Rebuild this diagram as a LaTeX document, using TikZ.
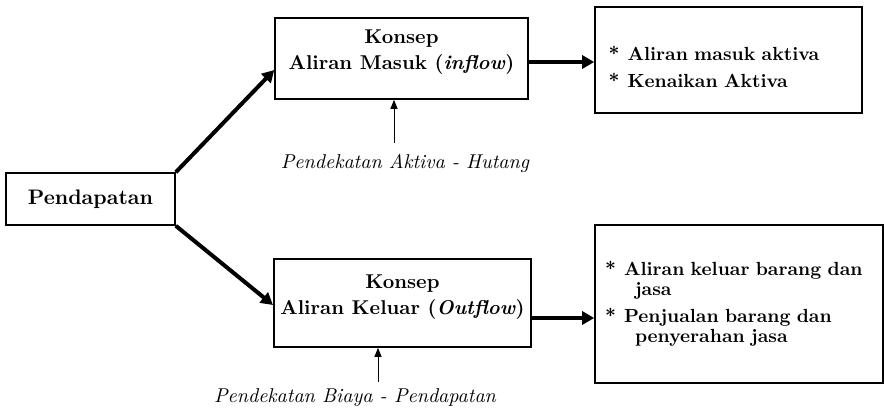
\documentclass[tikz,border=0pt]{standalone}
\usepackage{tikz}
\usetikzlibrary{positioning, shapes}
\usetikzlibrary{arrows.meta}

\begin{document}
\begin{tikzpicture}[x=0.5pt,y=-0.5pt]
            \tikzset{kotak/.style = {draw, line width=0.8pt, align=center, font=\bfseries\fontsize{10}{13}\selectfont}}
            \tikzset{daftar/.style = {kotak, align=left, font=\bfseries\fontsize{9.5}{10}\selectfont}}
            \tikzset{bigedge/.style = {-{Triangle[length=6pt,width=6.5pt]}, line width=2pt}}
            \tikzset{smalledge/.style = {-{Triangle[length=4.5pt,width=3.5pt]}, line width=0.5pt}}
            \tikzset{note/.style = {font=\itshape\fontsize{10}{12}\selectfont}}

            \useasboundingbox (0,0) rectangle (884,413);

            \node[kotak, font=\bfseries\fontsize{10.5}{12}\selectfont, minimum width=84.5pt, minimum height=26pt] (pend) at (90.5,199) {Pendapatan};

            \node[kotak, minimum width=126.5pt, minimum height=40.5pt, text depth=9pt] (inflow) at (401.5,58.5) {Konsep\\Aliran Masuk (\textit{inflow})};
            \node[kotak, minimum width=125.5pt, minimum height=44pt, text depth=8pt] (outflow) at (402.5,303) {Konsep\\Aliran Keluar (\textit{Outflow})};

            \node[daftar, minimum width=133.5pt, minimum height=53pt, text width=120pt, text depth=7pt] (masuk) at (728.5,60)
                {\makebox[9.5pt][l]{*}Aliran masuk aktiva\\[3.5pt]\makebox[9.5pt][l]{*}Kenaikan Aktiva};
            \node[daftar, minimum width=144pt, minimum height=79pt, text width=134pt] (keluar) at (739,304)
                {\makebox[9.5pt][l]{*}Aliran keluar barang dan\\\hspace{15pt}jasa\\[3.5pt]\makebox[9.5pt][l]{*}Penjualan barang dan\\\hspace{15pt}penyerahan jasa};

            \node[note] (pak) at (405,163) {Pendekatan Aktiva - Hutang};
            \node[note] (pbp) at (355,398) {Pendekatan Biaya - Pendapatan};

            % main arrows
            \draw[bigedge] (pend.north east) -- (inflow.west |- 0,70);
            \draw[bigedge] (pend.south east) -- (outflow.west |- 0,305);
            \draw[bigedge] (inflow.east |- 0,62) -- (masuk.west |- 0,62);
            \draw[bigedge] (outflow.east |- 0,318) -- (keluar.west |- 0,318);

            % approach arrows
            \draw[smalledge, shorten <=2pt] (pak.north -| 394,0) -- (inflow.south -| 394,0);
            \draw[smalledge] (pbp.north -| 378,0) -- (outflow.south -| 378,0);

        \end{tikzpicture}
\end{document}
